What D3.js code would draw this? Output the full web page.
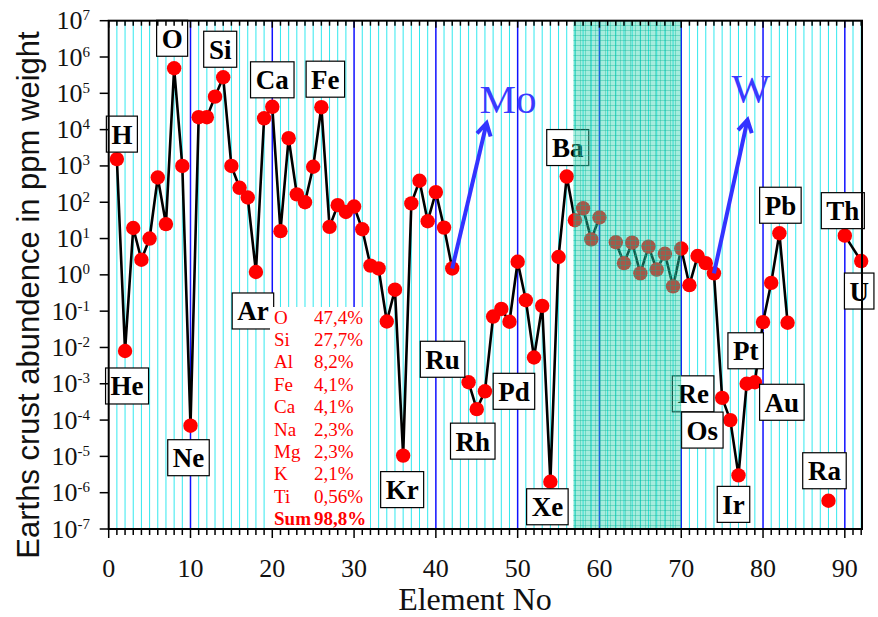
<!DOCTYPE html>
<html>
<head>
<meta charset="utf-8">
<script src="https://cdn.jsdelivr.net/npm/d3@7"></script>
<style>
  body { margin: 0; background: #fff; }
</style>
</head>
<body>
<div id="chart"></div>
<script>
// Crust abundance (ppm) for elements 1..92, null where nothing is plotted
const elementNo = d3.range(1, 93);
const abundance = [
  1540, 0.008, 19.5, 2.6, 10, 480, 25, 490000, 1000, 7e-5,        // 1-10
  22000, 22000, 81000, 277000, 1000, 250, 135, 1.2, 20500, 42500, // 11-20
  16, 5800, 165, 100, 950, 41500, 21, 83, 54, 76,                 // 21-30
  18, 1.8, 1.5, 0.052, 0.39, 1.05e-5, 93, 390, 30, 190,           // 31-40
  20, 1.5, null, 0.0011, 0.0002, 0.00062, 0.071, 0.115, 0.051, 2.3, // 41-50
  0.2, 0.0053, 0.14, 2e-6, 3.1, 510, 32, 68, 9.5, 38,             // 51-60
  null, 7.9, 2.1, 7.7, 1.1, 6, 1.4, 3.8, 0.48, 5.3,               // 61-70
  0.52, 3.3, 2.1, 1.1, 0.00041, 0.0001, 3e-6, 0.001, 0.0011, 0.05, // 71-80
  0.6, 14, 0.048, null, null, null, null, 6e-7, null, 12,         // 81-90
  null, 2.4                                                       // 91-92
];

// runs of elements joined by the black line
const lineRuns = [[1, 42], [44, 60], [62, 83], [90, 92]];

// axis ticks
const yTickExp = d3.range(-7, 8);
const xTickValues = d3.range(0, 100, 10);

// boxed element labels
const labelSymbols  = ["H", "He", "O", "Ne", "Si", "Ar", "Ca", "Fe", "Kr", "Ru", "Rh", "Pd",
                       "Xe", "Ba", "Re", "Os", "Ir", "Pt", "Au", "Pb", "Th", "U", "Ra"];
const labelElements = [1, 2, 8, 10, 14, 18, 20, 26, 36, 44, 45, 46,
                       54, 56, 75, 76, 77, 78, 79, 82, 90, 92, 88];

// composition table
const tableNames  = ["O", "Si", "Al", "Fe", "Ca", "Na", "Mg", "K", "Ti", "Sum"];
const tableValues = ["47,4%", "27,7%", "8,2%", "4,1%", "4,1%", "2,3%", "2,3%", "2,1%", "0,56%", "98,8%"];

// blue arrows (from element, to [element no, ppm])
const arrowNames = ["Mo", "W"];
const arrowFrom = [42, 74];
const arrowTip = [[46.2, 1.5e4], [78.1, 1.85e4]];

// lanthanide band
const bandRange = [56.8, 70];

const W = 878, H = 617;
const margin = { top: 20.7, right: 16, bottom: 88, left: 108.7 };

var x = d3.scaleLinear().domain([0, 92.1]).range([margin.left, W - margin.right]);
var y = d3.scaleLog().domain([1e-7, 1e7]).range([H - margin.bottom, margin.top]);

var svg = d3.select("#chart").append("svg")
    .attr("width", W)
    .attr("height", H)
    .style("font-family", "'Liberation Serif', 'Times New Roman', serif");

var defs = svg.append("defs");

// grid pattern for the band
var pat = defs.append("pattern")
    .attr("id", "bandPat")
    .attr("width", 5).attr("height", 5)
    .attr("patternUnits", "userSpaceOnUse");
pat.append("rect").attr("width", 5).attr("height", 5).attr("fill", "rgba(45,210,175,0.42)");
pat.append("path").attr("d", "M0,0.5H5M0.5,0V5")
    .attr("stroke", "rgba(0,180,145,0.35)").attr("stroke-width", 1);

defs.append("marker")
    .attr("id", "chev")
    .attr("markerUnits", "userSpaceOnUse")
    .attr("viewBox", "-16 -10 20 20")
    .attr("markerWidth", 20).attr("markerHeight", 20)
    .attr("refX", 0).attr("refY", 0)
    .attr("orient", "auto")
    .append("path")
    .attr("d", "M-12,-7L0,0L-12,7")
    .attr("fill", "none")
    .attr("stroke", "#3333ff")
    .attr("stroke-width", 4)
    .attr("stroke-linejoin", "miter");

var plotTop = margin.top, plotBottom = H - margin.bottom;

// vertical grid: cyan every element, blue every ten
svg.append("g").selectAll("line")
    .data(d3.range(1, 93).filter(d => d % 10 !== 0))
    .enter().append("line")
    .attr("x1", d => x(d)).attr("x2", d => x(d))
    .attr("y1", plotTop).attr("y2", plotBottom)
    .attr("stroke", "#33e8ee")
    .attr("stroke-width", 1);

svg.append("g").selectAll("line")
    .data(d3.range(10, 100, 10))
    .enter().append("line")
    .attr("x1", d => x(d)).attr("x2", d => x(d))
    .attr("y1", plotTop).attr("y2", plotBottom)
    .attr("stroke", "#1010ff")
    .attr("stroke-width", 1.5);

// data
var pts = elementNo.map((n, i) => ({ n: n, v: abundance[i] })).filter(d => d.v != null);

var line = d3.line().x(d => x(d.n)).y(d => y(d.v));

svg.append("g").selectAll("path")
    .data(lineRuns)
    .enter().append("path")
    .attr("d", r => line(pts.filter(d => d.n >= r[0] && d.n <= r[1])))
    .attr("fill", "none")
    .attr("stroke", "#000")
    .attr("stroke-width", 2.6)
    .attr("stroke-linejoin", "round");

svg.append("g").selectAll("circle")
    .data(pts)
    .enter().append("circle")
    .attr("cx", d => x(d.n))
    .attr("cy", d => y(d.v))
    .attr("r", 7.2)
    .attr("fill", "#ff0000");

// element label boxes, offset in px from their point
const labelOffsets = [[5, -25], [2, 35], [-2, -30], [-2, 32], [-3, -28], [-3, 39], [0, -27],
                      [4, -28], [-1, 34], [-26, -23], [-4, 32], [29, 0], [-3, 25], [1, -29],
                      [-29, -4], [-28, 10], [-5, 29], [-1, -33], [27, 20], [1, -28], [-2, -25],
                      [-2, 30], [-4, -30]];

var labs = svg.append("g").selectAll("g")
    .data(labelSymbols.map((s, i) => ({ s: s, n: labelElements[i], off: labelOffsets[i] })))
    .enter().append("g")
    .attr("transform", d => "translate(" + (x(d.n) + d.off[0]) + "," + (y(abundance[d.n - 1]) + d.off[1]) + ")");

labs.append("text")
    .attr("text-anchor", "middle")
    .attr("y", 9.5)
    .style("font-size", "27px")
    .style("font-weight", "bold")
    .text(d => d.s);

labs.each(function () {
    var g = d3.select(this);
    var bb = g.select("text").node().getBBox();
    g.insert("rect", "text")
        .attr("x", -bb.width / 2 - 5)
        .attr("y", -18)
        .attr("width", bb.width + 10)
        .attr("height", 36)
        .attr("fill", "#fff")
        .attr("stroke", "#000")
        .attr("stroke-width", 1.2);
});

// composition table
var tbl = svg.append("g");
tbl.append("rect")
    .attr("x", 270).attr("y", 307)
    .attr("width", 100).attr("height", plotBottom - 307)
    .attr("fill", "#fff");

tbl.selectAll(".tn")
    .data(tableNames)
    .enter().append("text")
    .attr("x", 274)
    .attr("y", (d, i) => 323.5 + i * 22.4)
    .style("font-size", "19px")
    .style("font-weight", (d, i) => i === 9 ? "bold" : "normal")
    .attr("fill", "#ff0000")
    .text(d => d);

tbl.selectAll(".tv")
    .data(tableValues)
    .enter().append("text")
    .attr("x", 314)
    .attr("y", (d, i) => 323.5 + i * 22.4)
    .style("font-size", "19px")
    .style("font-weight", (d, i) => i === 9 ? "bold" : "normal")
    .attr("fill", "#ff0000")
    .text(d => d);

// blue arrows with element names
arrowNames.forEach(function (name, i) {
    var x0 = x(arrowFrom[i]), y0 = y(abundance[arrowFrom[i] - 1]);
    var x1 = x(arrowTip[i][0]), y1 = y(arrowTip[i][1]);
    svg.append("line")
        .attr("x1", x0).attr("y1", y0)
        .attr("x2", x1).attr("y2", y1)
        .attr("stroke", "#3333ff")
        .attr("stroke-width", 4)
        .attr("marker-end", "url(#chev)");
    svg.append("text")
        .attr("x", i === 0 ? x1 - 7 : x1 - 16)
        .attr("y", i === 0 ? y1 - 10 : y1 - 18)
        .style("font-size", "41px")
        .attr("fill", "#3a3aff")
        .text(name);
});

// lanthanide band drawn on top
svg.append("rect")
    .attr("x", x(bandRange[0]))
    .attr("y", plotTop)
    .attr("width", x(bandRange[1]) - x(bandRange[0]))
    .attr("height", plotBottom - plotTop)
    .attr("fill", "url(#bandPat)");

// axes frame and ticks
var ax = svg.append("g").attr("stroke", "#000");

ax.selectAll(".bt")
    .data(d3.range(0, 93))
    .enter().append("line")
    .attr("x1", d => x(d)).attr("x2", d => x(d))
    .attr("y1", plotBottom).attr("y2", d => plotBottom + (d % 10 === 0 ? 9 : 6))
    .attr("stroke-width", 1.5);

ax.selectAll(".tt")
    .data(d3.range(0, 93))
    .enter().append("line")
    .attr("x1", d => x(d)).attr("x2", d => x(d))
    .attr("y1", plotTop).attr("y2", d => plotTop + (d % 10 === 0 ? 7 : 5))
    .attr("stroke-width", 1.5);

ax.selectAll(".lt")
    .data(yTickExp)
    .enter().append("line")
    .attr("x1", margin.left - 9).attr("x2", margin.left)
    .attr("y1", d => y(Math.pow(10, d))).attr("y2", d => y(Math.pow(10, d)))
    .attr("stroke-width", 1.5);

ax.append("rect")
    .attr("x", margin.left).attr("y", plotTop)
    .attr("width", x(92.1) - margin.left)
    .attr("height", plotBottom - plotTop)
    .attr("fill", "none")
    .attr("stroke-width", 2);

// y tick labels 10^n
var yl = svg.append("g").selectAll("text")
    .data(yTickExp)
    .enter().append("text")
    .attr("x", 90)
    .attr("y", d => y(Math.pow(10, d)) + 8.5)
    .attr("text-anchor", "end")
    .attr("fill", "#111");
yl.append("tspan").style("font-size", "26px").text("10");
yl.append("tspan").style("font-size", "15px").attr("dy", -9).text(d => d);

// x tick labels
svg.append("g").selectAll("text")
    .data(xTickValues)
    .enter().append("text")
    .attr("x", d => x(d))
    .attr("y", 577)
    .attr("text-anchor", "middle")
    .style("font-size", "26px")
    .attr("fill", "#111")
    .text(d => d);

// axis titles
svg.append("text")
    .attr("x", 475)
    .attr("y", 610)
    .attr("text-anchor", "middle")
    .style("font-size", "32px")
    .attr("fill", "#111")
    .text("Element No");

svg.append("text")
    .attr("transform", "translate(39,295) rotate(-90)")
    .attr("text-anchor", "middle")
    .style("font-family", "'Liberation Sans', Arial, sans-serif")
    .style("font-size", "31px")
    .attr("fill", "#111")
    .text("Earths crust abundence in ppm weight");
</script>
</body>
</html>
